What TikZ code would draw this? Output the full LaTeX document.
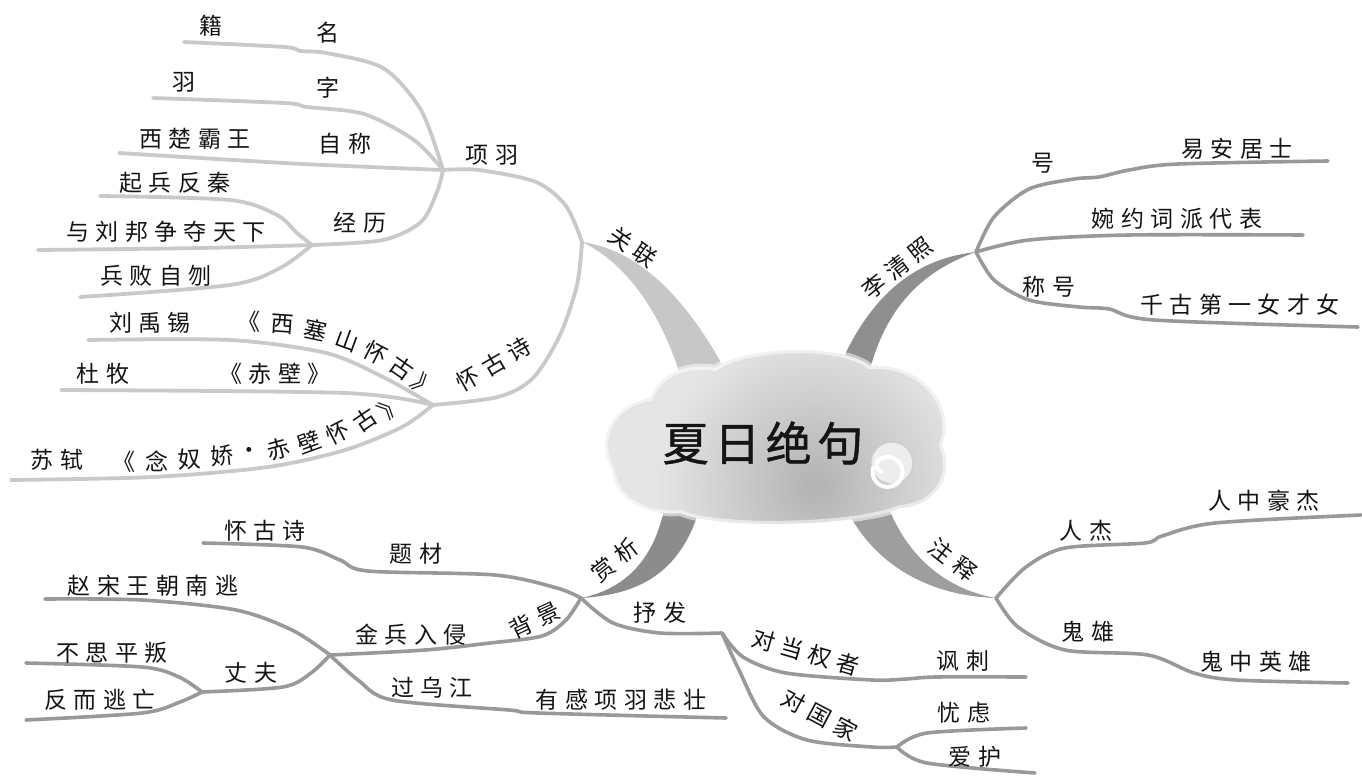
\documentclass[tikz,border=0pt]{standalone}
\usepackage{fontspec}
\newfontfamily\cjk[LetterSpace=28]{Noto Sans CJK SC}
\newfontfamily\cjkc{Noto Sans CJK SC}
\newfontfamily\cjkbig[LetterSpace=12,FakeBold=1]{Noto Sans CJK SC}
\definecolor{lg}{gray}{0.79}
\definecolor{dg}{gray}{0.60}
\definecolor{brgl}{gray}{0.78}
\definecolor{brlq}{gray}{0.56}
\definecolor{brzs}{gray}{0.62}
\definecolor{brsx}{gray}{0.55}
\definecolor{txt}{gray}{0.08}
\definecolor{cloudA}{gray}{0.90}
\definecolor{cloudB}{gray}{0.70}
\begin{document}
\begin{tikzpicture}[x=1pt,y=-1pt,
  lb/.style={font=\cjk\fontsize{23}{23}\selectfont, text=txt, inner sep=0pt},
  ch/.style={font=\cjkc\fontsize{23}{23}\selectfont, text=txt, inner sep=0pt},
  lline/.style={draw=lg, line width=3.8pt, line cap=round, line join=round},
  dline/.style={draw=dg, line width=3.6pt, line cap=round, line join=round},
]
\useasboundingbox (0,0) rectangle (1362,779);
% ---------- hubs ----------
\coordinate (h-gl) at (582,242);
\coordinate (h-xy) at (443,170);
\coordinate (h-jl) at (312,245);
\coordinate (h-hgs) at (433,405);
\coordinate (h-lqz) at (976,252);
\coordinate (h-zs) at (996,598);
\coordinate (h-sx) at (581,598);
\coordinate (h-jb) at (330,655);
\coordinate (h-zf) at (202,692);
\coordinate (h-sf) at (722,633);
\coordinate (h-gj) at (897,747);
% free ends
\coordinate (e-ming) at (184,42);
\coordinate (e-zi) at (153,98);
\coordinate (e-zc) at (119,153);
\coordinate (e-qb) at (100,196);
\coordinate (e-yl) at (38,250);
\coordinate (e-bb) at (80,297);
\coordinate (e-xs) at (88,340);
\coordinate (e-cb) at (61,390);
\coordinate (e-nn) at (11,480);
\coordinate (e-hao) at (1328,161);
\coordinate (e-wy) at (1303,235);
\coordinate (e-ch) at (1358,327);
\coordinate (e-rj) at (1361,515);
\coordinate (e-gx) at (1348,683);
\coordinate (e-tc) at (203,543);
\coordinate (e-zs) at (45,599);
\coordinate (e-bs) at (26,663);
\coordinate (e-fe) at (26,720);
\coordinate (e-gw) at (726,718);
\coordinate (e-dq) at (1026,677);
\coordinate (e-yl2) at (1026,728);
\coordinate (e-ah) at (1035,773);

% ---------- thick main branches ----------
\fill[brgl] (h-gl) .. controls (640,250) and (690,300) .. (733,385) -- (683,385) .. controls (665,320) and (630,265) .. (h-gl) -- cycle;
\fill[brlq] (h-lqz) .. controls (920,258) and (870,290) .. (836,375) -- (868,377) .. controls (885,305) and (925,270) .. (h-lqz) -- cycle;
\fill[brzs] (840,495) .. controls (868,565) and (930,596) .. (h-zs) .. controls (950,590) and (905,560) .. (884,495) -- cycle;
\fill[brsx] (666,500) .. controls (655,565) and (620,590) .. (h-sx) .. controls (630,595) and (682,580) .. (702,500) -- cycle;

% ---------- light subtree (xiang yu / huai gu shi) ----------
\draw[lline] plot[smooth] coordinates {(e-ming) (284,47) (300,51) (326,53) (383,68) (421,110) (h-xy)};
\draw[lline] plot[smooth] coordinates {(e-zi) (284,103) (307,107) (364,114) (414,140) (h-xy)};
\draw[lline] plot[smooth] coordinates {(e-zc) (284,163) (370,167) (h-xy)};
\draw[lline] plot[smooth] coordinates {(h-xy) (437,192) (421,222) (383,240) (h-jl)};
\draw[lline] plot[smooth] coordinates {(e-qb) (230,200) (277,215) (297,233) (h-jl)};
\draw[lline] plot[smooth] coordinates {(e-yl) (200,248) (h-jl)};
\draw[lline] plot[smooth] coordinates {(e-bb) (230,285) (280,268) (h-jl)};
\draw[lline] plot[smooth] coordinates {(h-xy) (479,170) (536,182) (566,206) (h-gl)};
\draw[lline] plot[smooth] coordinates {(h-gl) (577,285) (560,335) (533,378) (498,397) (h-hgs)};
\draw[lline] plot[smooth] coordinates {(e-xs) (230,340) (326,353) (383,377) (h-hgs)};
\draw[lline] plot[smooth] coordinates {(e-cb) (345,393) (h-hgs)};
\draw[lline] plot[smooth] coordinates {(e-nn) (153,477) (268,467) (345,450) (402,427) (h-hgs)};

% ---------- dark subtrees ----------
\draw[dline] plot[smooth] coordinates {(h-lqz) (994,217) (1029,189) (1074,179) (1099,177) (1129,170) (1178,164) (e-hao)};
\draw[dline] plot[smooth] coordinates {(h-lqz) (1029,240) (1129,235) (e-wy)};
\draw[dline] plot[smooth] coordinates {(h-lqz) (994,280) (1029,300) (1079,307) (1109,309) (1154,320) (e-ch)};
\draw[dline] plot[smooth] coordinates {(h-zs) (1026,567) (1065,548) (1145,543) (1162,536) (1215,523) (e-rj)};
\draw[dline] plot[smooth] coordinates {(h-zs) (1018,627) (1065,650) (1148,655) (1194,673) (1236,680) (e-gx)};
\draw[dline] plot[smooth] coordinates {(h-sx) (557,588) (495,575) (368,571) (340,560) (302,547) (e-tc)};
\draw[dline] plot[smooth] coordinates {(h-sx) (566,620) (542,636) (490,643) (425,650) (h-jb)};
\draw[dline] plot[smooth] coordinates {(e-zs) (142,600) (236,610) (292,630) (h-jb)};
\draw[dline] plot[smooth] coordinates {(h-jb) (311,673) (283,687) (h-zf)};
\draw[dline] plot[smooth] coordinates {(e-bs) (142,667) (179,677) (h-zf)};
\draw[dline] plot[smooth] coordinates {(e-fe) (142,713) (180,702) (h-zf)};
\draw[dline] plot[smooth] coordinates {(h-jb) (358,680) (392,700) (509,710) (538,713) (e-gw)};
\draw[dline] plot[smooth] coordinates {(h-sx) (613,623) (660,633) (h-sf)};
\draw[dline] plot[smooth] coordinates {(h-sf) (743,657) (786,673) (872,680) (906,679) (936,677) (e-dq)};
\draw[dline] plot[smooth] coordinates {(h-sf) (739,670) (764,717) (807,740) (872,747) (h-gj)};
\draw[dline] plot[smooth] coordinates {(h-gj) (927,733) (e-yl2)};
\draw[dline] plot[smooth] coordinates {(h-gj) (927,763) (e-ah)};

% ---------- cloud ----------
\def\cloudshape{(612,470) .. controls (595,440) and (610,405) .. (650,398)
  .. controls (660,372) and (690,363) .. (715,368)
  .. controls (745,346) and (840,343) .. (870,366)
  .. controls (920,362) and (957,405) .. (942,445)
  .. controls (955,477) and (935,506) .. (900,508)
  .. controls (860,526) and (720,530) .. (680,513)
  .. controls (640,516) and (614,496) .. (612,470) -- cycle}
\fill[cloudA] \cloudshape;
\begin{scope}
\clip \cloudshape;
\shade[inner color=cloudB, outer color=cloudA] (815,485) circle (160);
\end{scope}
\draw[white, line width=6pt, opacity=0.55] \cloudshape;
% swirl
\fill[gray!14] (892,463) circle (21);
\draw[gray!40, line width=1.2pt] (892,463) circle (21);
\draw[white, line width=4pt, line cap=round] (873,468) arc[start angle=195, end angle=-120, radius=15] arc[start angle=-120, end angle=-250, radius=7];
\node[font=\cjkbig\fontsize{46}{46}\selectfont, text=txt, inner sep=0pt] (title) at (763,443) {夏日绝句};

% ---------- main labels ----------
\node[lb, rotate=-35] (t-gl) at (633,247) {关联};
\node[lb, rotate=38] (t-lqz) at (897,268) {李清照};
\node[lb, rotate=-38] (t-zs) at (953,560) {注释};
\node[lb, rotate=38] (t-sx) at (615,560) {赏析};

% ---------- light subtree labels ----------
\node[lb] (t-ji) at (211,26) {籍};
\node[lb] (t-ming) at (328,33) {名};
\node[lb] (t-yu) at (184,82) {羽};
\node[lb] (t-zi) at (328,88) {字};
\node[lb] (t-xc) at (195,139) {西楚霸王};
\node[lb] (t-zc) at (345,144) {自称};
\node[lb] (t-xy) at (492,155) {项羽};
\node[lb] (t-qb) at (175,183) {起兵反秦};
\node[lb] (t-jl) at (360,223) {经历};
\node[lb] (t-lb) at (166,232) {与刘邦争夺天下};
\node[lb] (t-bb) at (156,276) {兵败自刎};
\node[lb] (t-lyx) at (150,323) {刘禹锡};
\node[lb] (t-dm) at (103,374) {杜牧};
\node[lb] (t-cbt) at (275,374) {《赤壁》};
\node[lb] (t-ss) at (57,460) {苏轼};
\node[lb, rotate=30] (t-hgs) at (494,364) {怀古诗};
% curved title: xi sai shan huai gu
\node[ch] (x1) at (249,322) {《};
\node[ch, rotate=-4] (x2) at (283,324) {西};
\node[ch, rotate=-12] (x3) at (316,330) {塞};
\node[ch, rotate=-20] (x4) at (347,340) {山};
\node[ch, rotate=-27] (x5) at (376,353) {怀};
\node[ch, rotate=-35] (x6) at (402,368) {古};
\node[ch, rotate=-45] (x7) at (424,386) {》};
% curved title: nian nu jiao
\node[ch] (n1) at (124,462) {《};
\node[ch] (n2) at (157,461) {念};
\node[ch, rotate=3] (n3) at (190,459) {奴};
\node[ch, rotate=6] (n4) at (222,456) {娇};
\node[ch, rotate=10] (n5) at (250,453) {·};
\node[ch, rotate=15] (n6) at (278,449) {赤};
\node[ch, rotate=20] (n7) at (309,442) {壁};
\node[ch, rotate=27] (n8) at (338,432) {怀};
\node[ch, rotate=34] (n9) at (365,420) {古};
\node[ch, rotate=45] (n10) at (390,406) {》};

% ---------- li qing zhao labels ----------
\node[lb] (t-hao) at (1043,163) {号};
\node[lb] (t-ya) at (1237,149) {易安居士};
\node[lb] (t-wy) at (1177,219) {婉约词派代表};
\node[lb] (t-chh) at (1049,287) {称号};
\node[lb] (t-qg) at (1240,305) {千古第一女才女};

% ---------- zhu shi labels ----------
\node[lb] (t-rj) at (1086,531) {人杰};
\node[lb] (t-rz) at (1264,501) {人中豪杰};
\node[lb] (t-gx) at (1088,632) {鬼雄};
\node[lb] (t-gz) at (1256,662) {鬼中英雄};

% ---------- shang xi labels ----------
\node[lb] (t-hgs2) at (265,531) {怀古诗};
\node[lb] (t-tc) at (416,554) {题材};
\node[lb, rotate=25] (t-bj) at (535,620) {背景};
\node[lb] (t-jb) at (411,635) {金兵入侵};
\node[lb] (t-zsw) at (153,586) {赵宋王朝南逃};
\node[lb] (t-bs) at (112,653) {不思平叛};
\node[lb] (t-zf) at (251,673) {丈夫};
\node[lb] (t-fe) at (100,700) {反而逃亡};
\node[lb] (t-gwj) at (432,688) {过乌江};
\node[lb] (t-yg) at (621,700) {有感项羽悲壮};
\node[lb] (t-sf) at (660,613) {抒发};
\node[lb, rotate=-16] (t-dq) at (806,652) {对当权者};
\node[lb] (t-fc) at (963,661) {讽刺};
\node[lb, rotate=-28] (t-dg) at (820,715) {对国家};
\node[lb] (t-yl) at (964,713) {忧虑};
\node[lb] (t-ah) at (975,757) {爱护};
\end{tikzpicture}
\end{document}
